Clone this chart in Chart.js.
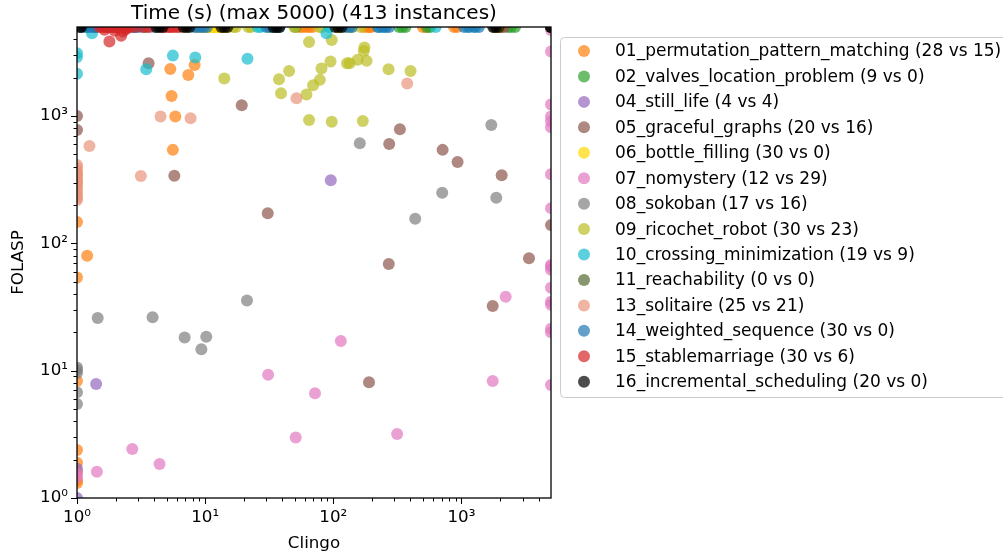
<!DOCTYPE html>
<html>
<head>
<meta charset="utf-8">
<script src="https://cdn.jsdelivr.net/npm/chart.js@4.4.1/dist/chart.umd.min.js"></script>
<style>
  html, body { margin: 0; padding: 0; background: #fff; }
</style>
</head>
<body>
<canvas id="chart" width="1003" height="556"></canvas>
<script>
// timeout value (s): points at MAX did not finish
const MAX = 5000;

const labels = [
  '01_permutation_pattern_matching (28 vs 15)',
  '02_valves_location_problem (9 vs 0)',
  '04_still_life (4 vs 4)',
  '05_graceful_graphs (20 vs 16)',
  '06_bottle_filling (30 vs 0)',
  '07_nomystery (12 vs 29)',
  '08_sokoban (17 vs 16)',
  '09_ricochet_robot (30 vs 23)',
  '10_crossing_minimization (19 vs 9)',
  '11_reachability (0 vs 0)',
  '13_solitaire (25 vs 21)',
  '14_weighted_sequence (30 vs 0)',
  '15_stablemarriage (30 vs 6)',
  '16_incremental_scheduling (20 vs 0)'
];

const colors = ['#ff7f0e', '#2ca02c', '#9467bd', '#8c564b', '#ffd700', '#e377c2', '#7f7f7f',
                '#bcbd22', '#17becf', '#556b2f', '#e9967a', '#1f77b4', '#d62728', '#000000'];

// [clingo, folasp] pairs
const permutation = [[8.28, 2520], [5.35, 2344], [7.39, 2103], [5.47, 1438], [5.85, 989], [5.6, 542],
  [1, 147], [1.2, 80], [1, 53.8], [1, 8.3], [1, 2.38], [1, 1.89], [1, 1.6], [1, 1.38], [1, 1.31],
  [54.3, MAX], [57.3, MAX], [61.5, MAX], [65, MAX], [68.6, MAX], [174, MAX], [187, MAX], [191, MAX],
  [198, MAX], [500, MAX], [528, MAX], [876, MAX], [925, MAX], [MAX, MAX], [MAX, MAX]];
const valves = [[50.6, MAX], [327, MAX], [346, MAX], [366, MAX], [541, MAX], [571, MAX],
  [2300, MAX], [2440, MAX], [2620, MAX], [MAX, MAX]];
const stillLife = [[95.6, 313], [1.41, 7.87], [1, 1.0], [1, 1.7], [MAX, MAX]];
const graceful = [[1, 1000], [1, 778], [3.62, 2600], [19.3, 1216], [5.75, 340], [30.8, 172], [331, 788],
  [273, 604], [713, 542], [933, 436], [2061, 343], [MAX, 139], [271, 68.9], [3367, 76.4], [1754, 32.2],
  [190, 8.1], [3.37, MAX], [3.5, MAX], [1960, MAX], [2060, MAX], [2150, MAX], [MAX, MAX]];
const bottle = [[9.88, MAX], [10.4, MAX], [10.8, MAX], [11.2, MAX], [11.5, MAX], [11.7, MAX], [12.1, MAX],
  [12.5, MAX], [12.9, MAX], [13.4, MAX], [13.9, MAX], [14.4, MAX], [14.9, MAX], [8.72, MAX], [9.21, MAX],
  [9.72, MAX], [31.7, MAX], [33.6, MAX], [35.4, MAX], [37.0, MAX], [108, MAX], [111, MAX], [116, MAX],
  [133, MAX], [139, MAX], [1830, MAX], [1900, MAX], [1960, MAX], [4.41, MAX], [7.03, MAX]];
const nomystery = [[31, 9.3], [72, 6.64], [1754, 8.3], [50.9, 2.98], [315, 3.18], [2.7, 2.43], [4.41, 1.85],
  [1.43, 1.61], [114.5, 17.1], [2215, 38.1], [1, 1.55], [1, 1.45],
  [MAX, 4745], [MAX, 3206], [MAX, 1230], [MAX, 990], [MAX, 904], [MAX, 817], [MAX, 349], [MAX, 189],
  [MAX, 67.7], [MAX, 65.6], [MAX, 62], [MAX, 44.7], [MAX, 34.8], [MAX, 32.9], [MAX, 21.3], [MAX, 20],
  [MAX, 7.72], [MAX, MAX]];
const sokoban = [[161, 611], [708, 250], [1871, 228], [436, 156], [1710, 851], [1.45, 25.9], [3.89, 26.3],
  [6.92, 18.2], [10.2, 18.5], [9.34, 14.7], [21.2, 35.5], [1, 10.1], [1, 9.6], [1, 6.77], [1, 5.48],
  [1, 10.6], [1800, MAX], [MAX, MAX]];
const ricochet = [[14.1, 1968], [64.7, 3820], [97.3, 3960], [37.7, 1945], [45.2, 2260], [39.1, 1511],
  [61.7, 1473], [69.6, 1746], [78.5, 1922], [80.9, 2356], [95.1, 2674], [128, 2600], [134, 2600],
  [155, 2760], [175, 3445], [173, 3240], [182, 2710], [270, 2333], [401, 2260], [64.7, 931], [97.3, 903],
  [170, 915], [16.6, MAX], [17.4, MAX], [21.7, MAX], [22.8, MAX], [49.7, MAX], [77.8, MAX], [81.6, MAX],
  [164, MAX]];
const crossing = [[1, 3113], [1, 2900], [1, 2143], [1.31, 4470], [5.6, 2980], [3.47, 2333], [8.38, 2876],
  [21.4, 2810], [88.5, 4470], [1.21, MAX], [1.37, MAX], [25.7, MAX], [27.1, MAX], [93.1, MAX], [228, MAX],
  [250, MAX], [630, MAX], [1110, MAX], [1290, MAX], [MAX, MAX]];
const reachability = [[MAX, MAX], [MAX, MAX]];
const solitaire = [[4.49, 989], [7.7, 961], [51.6, 1380], [377, 1797], [1.25, 582], [3.15, 338],
  [1, 413], [1, 391], [1, 370], [1, 351], [1, 332], [1, 315], [1, 298], [1, 282], [1, 267], [1, 253],
  [1, 240], [1, 227], [1, 219], [1, 345], [1, 300], [1.86, MAX], [2.07, MAX], [2.48, MAX], [5.36, MAX],
  [MAX, MAX]];
const weighted = [[1.14, MAX], [1.21, MAX], [1.30, MAX], [1.37, MAX], [1.42, MAX], [2.71, MAX], [2.87, MAX],
  [3.02, MAX], [8.26, MAX], [8.72, MAX], [9.21, MAX], [9.72, MAX], [10.3, MAX], [30.1, MAX], [31.7, MAX],
  [33.6, MAX], [36.1, MAX], [38.0, MAX], [124, MAX], [133, MAX], [140, MAX], [223, MAX], [240, MAX],
  [258, MAX], [273, MAX], [1050, MAX], [1150, MAX], [1250, MAX], [1370, MAX], [4.03, MAX]];
const stable = [[1.79, 3840], [2.21, 4260], [2.28, 4600], [1.97, 4680], [1.64, 4750], [2.4, 4800],
  [1.50, MAX], [1.58, MAX], [1.67, MAX], [1.76, MAX], [1.86, MAX], [1.96, MAX], [2.07, MAX], [2.19, MAX],
  [2.31, MAX], [2.44, MAX], [2.57, MAX], [3.68, MAX], [4.82, MAX], [5.09, MAX], [5.36, MAX], [5.66, MAX],
  [5.98, MAX], [6.31, MAX], [3.25, MAX], [2.81, MAX], [1.73, MAX], [2.00, MAX], [2.23, MAX], [2.48, MAX]];
const incremental = [[1.05, MAX], [1.08, MAX], [4.18, MAX], [4.41, MAX], [4.66, MAX], [6.79, MAX],
  [7.16, MAX], [7.55, MAX], [13.4, MAX], [14.1, MAX], [14.9, MAX], [34.2, MAX], [36.1, MAX], [38.0, MAX],
  [104, MAX], [110, MAX], [116, MAX], [1770, MAX], [1860, MAX], [1960, MAX], [MAX, MAX], [MAX, MAX]];

const series = [permutation, valves, stillLife, graceful, bottle, nomystery, sokoban, ricochet,
                crossing, reachability, solitaire, weighted, stable, incremental];

const majorTicks = [1, 10, 100, 1000];
const tickLabels = ['10⁰', '10¹', '10²', '10³'];
const minorTicks = [2, 3, 4, 5, 6, 7, 8, 9, 20, 30, 40, 50, 60, 70, 80, 90,
                    200, 300, 400, 500, 600, 700, 800, 900, 2000, 3000, 4000];

function rgba(hex, a) {
  const n = parseInt(hex.slice(1), 16);
  return `rgba(${(n >> 16) & 255}, ${(n >> 8) & 255}, ${n & 255}, ${a})`;
}

Chart.defaults.font.family = 'DejaVu Sans';
Chart.defaults.color = '#000';

// рамка, мелкие засечки, заголовок и легенда
const decorPlugin = {
  id: 'decor',
  afterDatasetsDraw(chart) {
    const { ctx, chartArea: a, scales: { x, y } } = chart;
    ctx.save();
    ctx.strokeStyle = '#000';
    ctx.lineWidth = 1;
    ctx.beginPath();
    majorTicks.forEach(v => {
      const px = Math.round(x.getPixelForValue(v)) + 0.5;
      ctx.moveTo(px, a.bottom); ctx.lineTo(px, a.bottom + 6);
      const py = Math.round(y.getPixelForValue(v)) + 0.5;
      ctx.moveTo(a.left, py); ctx.lineTo(a.left - 6, py);
    });
    minorTicks.forEach(v => {
      const px = Math.round(x.getPixelForValue(v)) + 0.5;
      ctx.moveTo(px, a.bottom); ctx.lineTo(px, a.bottom + 3.5);
      const py = Math.round(y.getPixelForValue(v)) + 0.5;
      ctx.moveTo(a.left, py); ctx.lineTo(a.left - 3.5, py);
    });
    ctx.stroke();
    ctx.lineWidth = 1.3;
    ctx.strokeRect(a.left, a.top, a.right - a.left, a.bottom - a.top);
    ctx.restore();
  },
  afterDraw(chart) {
    const { ctx, chartArea: a } = chart;
    ctx.save();
    ctx.fillStyle = '#000';
    ctx.font = '20px "DejaVu Sans"';
    ctx.textAlign = 'center';
    ctx.textBaseline = 'alphabetic';
    ctx.fillText('Time (s) (max 5000) (413 instances)', (a.left + a.right) / 2, 18.5);

    // legend box
    ctx.beginPath();
    ctx.roundRect(560.5, 37.5, 470, 360, 4);
    ctx.fillStyle = '#fff';
    ctx.fill();
    ctx.strokeStyle = '#cccccc';
    ctx.lineWidth = 1;
    ctx.stroke();
    ctx.font = '17px "DejaVu Sans"';
    ctx.textAlign = 'left';
    ctx.textBaseline = 'middle';
    labels.forEach((lab, i) => {
      const cy = 51 + i * 25.44;
      ctx.beginPath();
      ctx.arc(584, cy, 6, 0, Math.PI * 2);
      ctx.fillStyle = rgba(colors[i], 0.7);
      ctx.fill();
      ctx.fillStyle = '#000';
      ctx.fillText(lab, 615, cy + 1);
    });
    ctx.restore();
  }
};

const datasets = series.map((pts, i) => ({
  label: labels[i],
  data: pts.map(([cx, fy]) => ({ x: cx, y: fy })),
  backgroundColor: rgba(colors[i], 0.7),
  borderWidth: 0,
  pointRadius: 6,
  pointHoverRadius: 6,
  clip: 0,
  order: series.length - i
}));

const axisCommon = {
  type: 'logarithmic',
  min: 1,
  max: MAX,
  border: { display: false },
  grid: { display: false, drawTicks: false },
  afterBuildTicks: scale => { scale.ticks = majorTicks.map(v => ({ value: v })); }
};

new Chart(document.getElementById('chart'), {
  type: 'scatter',
  data: { datasets },
  options: {
    responsive: false,
    animation: false,
    events: [],
    layout: { padding: { top: 27, right: 452, left: 0, bottom: 0 } },
    plugins: { legend: { display: false }, title: { display: false }, tooltip: { enabled: false } },
    scales: {
      x: {
        ...axisCommon,
        ticks: { font: { size: 16.7 }, padding: 10, autoSkip: false, maxRotation: 0,
                 callback: (v, i) => tickLabels[i] },
        title: { display: true, text: 'Clingo', font: { size: 16.7 }, padding: { top: 0, bottom: 2 } },
        afterFit: scale => { scale.height = 58; }
      },
      y: {
        ...axisCommon,
        ticks: { font: { size: 16.7 }, padding: 9, autoSkip: false,
                 callback: (v, i) => tickLabels[i] },
        title: { display: true, text: 'FOLASP', font: { size: 16.7 }, padding: { top: 9, bottom: 0 } },
        afterFit: scale => { scale.width = 77; }
      }
    }
  },
  plugins: [decorPlugin]
});
</script>
</body>
</html>
